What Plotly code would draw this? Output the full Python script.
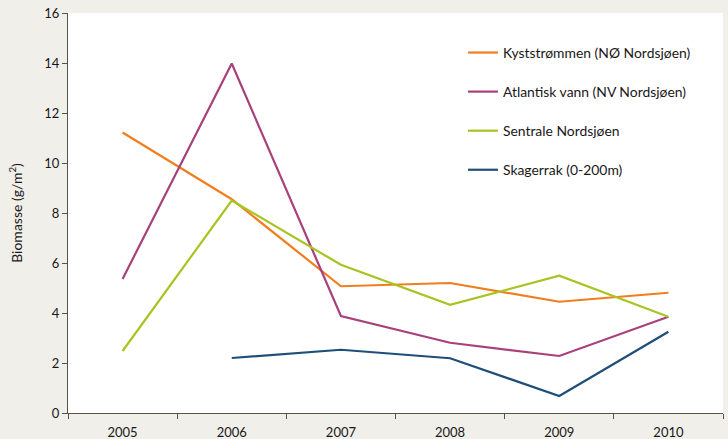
import plotly.graph_objects as go

years = ["2005", "2006", "2007", "2008", "2009", "2010"]
kyst = [11.22, 8.55, 5.07, 5.2, 4.45, 4.81]
atlantisk = [5.36, 13.98, 3.88, 2.81, 2.28, 3.85]
sentrale = [2.48, 8.5, 5.93, 4.33, 5.49, 3.85]
skagerrak = [None, 2.2, 2.53, 2.19, 0.68, 3.25]

names = ["Kyststrømmen (NØ Nordsjøen)", "Atlantisk vann (NV Nordsjøen)",
         "Sentrale Nordsjøen", "Skagerrak (0-200m)"]
series = [kyst, atlantisk, sentrale, skagerrak]
colors = ["#f07e1e", "#a8417a", "#a8c423", "#1f4e79"]

fig = go.Figure()
for i, (n, s, c) in enumerate(zip(names, series, colors)):
    fig.add_trace(go.Scatter(x=years, y=s, name=n, mode="lines",
                             line=dict(color=c, width=2.2),
                             legendgroup=f"g{i}", connectgaps=False))

axis_col = "#5a5148"
font_col = "#1a1718"
fig.update_layout(
    width=728, height=439,
    margin=dict(l=68, r=5, t=13, b=26),
    paper_bgcolor="#f0efe9",
    plot_bgcolor="#ffffff",
    font=dict(family="Lato, 'Open Sans', sans-serif", size=13, color=font_col),
    showlegend=True,
    legend=dict(x=0.603, y=0.94, xanchor="left", yanchor="top",
                bgcolor="rgba(0,0,0,0)", tracegroupgap=18,
                font=dict(size=13.9, color=font_col)),
    xaxis=dict(type="category", range=[-0.5, 5.5], tickson="boundaries",
               showline=True, linecolor=axis_col, linewidth=1.2,
               ticks="outside", ticklen=5, tickcolor=axis_col,
               showgrid=False, zeroline=False, ticklabelstandoff=7,
               automargin=False,
               tickfont=dict(size=13, color=font_col)),
    yaxis=dict(range=[0, 16], dtick=2, showline=True, linecolor=axis_col,
               linewidth=1.2, ticks="outside", ticklen=5, tickcolor=axis_col,
               showgrid=False, zeroline=False, automargin=False,
               tickfont=dict(size=13, color=font_col),
               title=dict(text="Biomasse (g/m<sup>2</sup>)", standoff=18,
                          font=dict(size=14, color=font_col))),
)

fig.write_html("out.html", config={"displayModeBar": False},
               post_script="document.body.style.margin='0';")
